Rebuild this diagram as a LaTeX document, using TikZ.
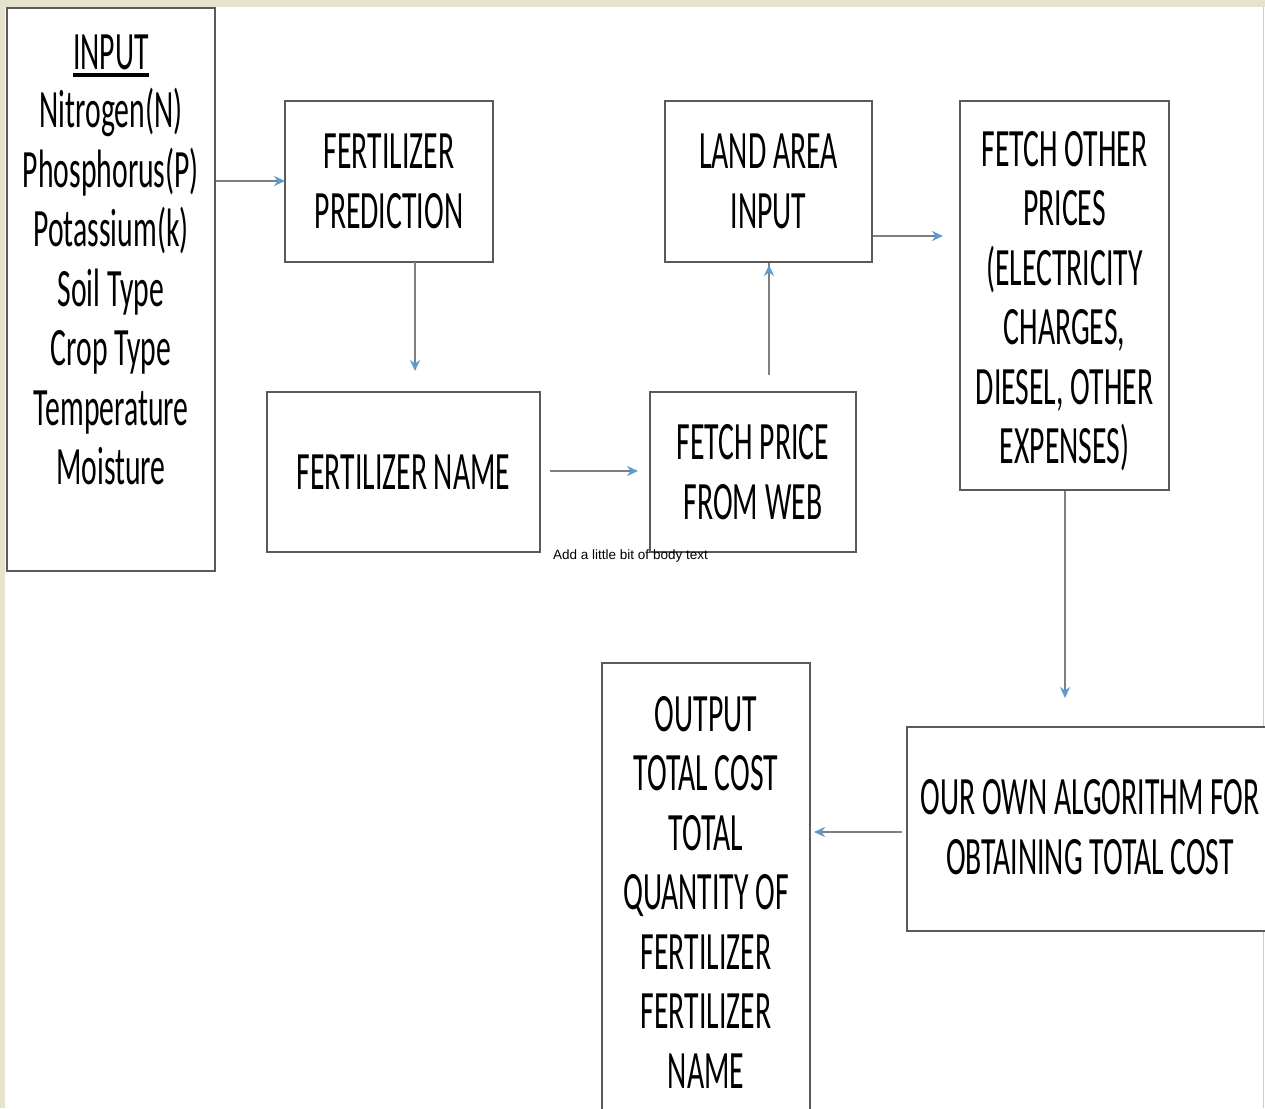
\documentclass[tikz,border=0pt]{standalone}
\usepackage{fontspec}
\setmainfont{Carlito}[FakeStretch=0.55]
\newfontfamily\smallsans{Liberation Sans}
\usetikzlibrary{arrows.meta}
\definecolor{boxline}{HTML}{5A5A5A}
\definecolor{conn}{HTML}{7F7F7F}
\definecolor{tipblue}{HTML}{5B9BD5}
\definecolor{edgebeige}{HTML}{E6E3CC}
\tikzset{
  box/.style={draw=boxline, line width=2pt, fill=white, inner sep=0pt, align=center,
    font=\fontsize{54}{59.5}\selectfont},
  lbl/.style={inner sep=0pt, align=center, font=\fontsize{54}{59.5}\selectfont},
  conn/.style={draw=conn, line width=1.8pt, -{Stealth[length=11pt,width=10pt,color=tipblue]}},
}
\begin{document}
\begin{tikzpicture}[x=1pt,y=-1pt]
\useasboundingbox (0,0) rectangle (1265,1108);
\fill[white] (0,0) rectangle (1265,1108);
\fill[edgebeige] (0,0) rectangle (1265,7);
\fill[edgebeige] (0,0) rectangle (5,1108);
\draw[gray!40, line width=1pt] (1263,7) -- (1263,1108);
% boxes
\node[box, minimum width=208pt, minimum height=563pt] (input) at (111,289.5) {};
\node[lbl, anchor=base] (inputtitle) at (111,70) {INPUT};
\draw[line width=3.5pt] ([yshift=-5pt]inputtitle.base west) -- ([yshift=-5pt]inputtitle.base east);
\node[lbl, anchor=north] (inputlist) at (111,88) {Nitrogen(N)\\Phosphorus(P)\\Potassium(k)\\Soil Type\\Crop Type\\Temperature\\Moisture};
\node[box, minimum width=208pt, minimum height=161pt] (pred) at (389,181.5) {FERTILIZER\\PREDICTION};
\node[box, minimum width=207pt, minimum height=161pt] (land) at (768.5,181.5) {LAND AREA\\INPUT};
\node[box, minimum width=209pt, minimum height=389pt] (other) at (1064.5,295.5) {};
\node[lbl] (othertext) at (1064.5,301) {FETCH OTHER\\PRICES\\(ELECTRICITY\\CHARGES,\\DIESEL, OTHER\\EXPENSES)};
\node[box, minimum width=273pt, minimum height=160pt] (name) at (403.5,472) {FERTILIZER NAME};
\node[box, minimum width=206pt, minimum height=160pt] (web) at (753,472) {FETCH PRICE\\FROM WEB};
\node[box, minimum width=370pt, minimum height=204pt] (algo) at (1092,829) {};
\node[lbl] (algotext) at (1090,827) {OUR OWN ALGORITHM FOR\\OBTAINING TOTAL COST};
\node[box, minimum width=208pt, minimum height=470pt] (out) at (706,898) {};
\node[lbl] (outtext) at (706,892) {OUTPUT\\TOTAL COST\\TOTAL\\QUANTITY OF\\FERTILIZER\\FERTILIZER\\NAME};
\node[inner sep=0pt, anchor=west, font=\smallsans\fontsize{13.5}{15}\selectfont] (body) at (553,556) {Add a little bit of body text};
% connectors
\coordinate (a1e) at (285,181);
\draw[conn] (input.east |- a1e) -- (a1e);
\coordinate (a2s) at (415,262);
\coordinate (a2e) at (415,371);
\draw[conn] (a2s) -- (a2e);
\coordinate (a3s) at (550,471);
\coordinate (a3e) at (638,471);
\draw[conn] (a3s) -- (a3e);
\coordinate (a4s) at (769,375);
\draw[conn] (a4s) -- (a4s |- land.south) ++(0,2);
\coordinate (a5e) at (943,236);
\draw[conn] (land.east |- a5e) -- (a5e);
\coordinate (a6e) at (1065,698);
\draw[conn] (other.south -| a6e) -- (a6e);
\coordinate (a7s) at (902,832);
\coordinate (a7e) at (814,832);
\draw[conn] (a7s) -- (a7e);
\end{tikzpicture}
\end{document}
